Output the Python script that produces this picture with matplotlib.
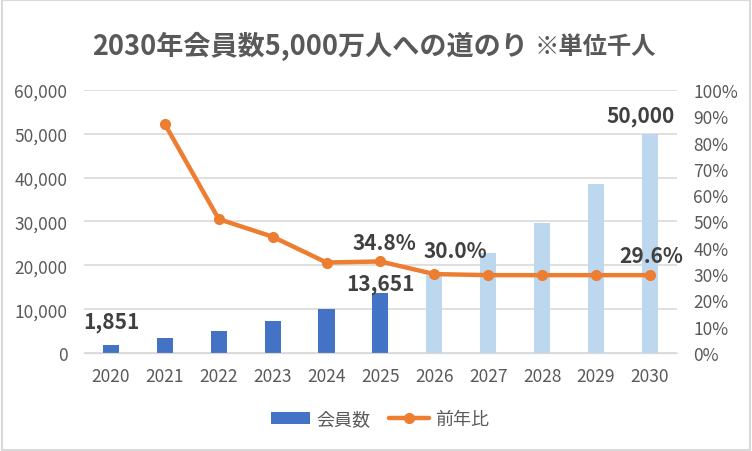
import numpy as np
import matplotlib.pyplot as plt
from matplotlib.patches import Rectangle
from matplotlib.ticker import FuncFormatter

plt.rcParams['font.family'] = ['Noto Sans CJK JP', 'DejaVu Sans']

years = ['2020', '2021', '2022', '2023', '2024', '2025', '2026', '2027', '2028', '2029', '2030']
members = [1851, 3480, 5100, 7350, 10100, 13651, 17750, 22900, 29700, 38500, 50000]
yoy = [np.nan, 87.0, 50.9, 44.2, 34.4, 34.8, 30.0, 29.6, 29.6, 29.6, 29.6]
n_actual = 6

dark_blue = '#4472C4'
light_blue = '#BDD7EE'
orange = '#ED7D31'
grey_txt = '#595959'
lbl_col = '#404040'

fig = plt.figure(figsize=(7.52, 4.52), dpi=100)
ax = fig.add_axes([0.1117, 0.2168, 0.7883, 0.582])
ax2 = ax.twinx()

x = np.arange(len(years))
colors = [dark_blue if i < n_actual else light_blue for i in range(len(years))]
bars = ax.bar(x, members, width=0.3, color=colors, zorder=2)
line, = ax2.plot(x, yoy, color=orange, lw=3.2, marker='o', ms=7, zorder=3,
                 solid_capstyle='round')

ax.set_xlim(-0.5, len(years) - 0.5)
ax.set_ylim(0, 60000)
ax.set_yticks(np.arange(0, 60001, 10000))
ax.yaxis.set_major_formatter(FuncFormatter(lambda v, p: f'{int(v):,}'))
ax2.set_ylim(0, 100)
ax2.set_yticks(np.arange(0, 101, 10))
ax2.yaxis.set_major_formatter(FuncFormatter(lambda v, p: f'{int(v)}%'))
ax.set_xticks(x)
ax.set_xticklabels(years)

ax.grid(axis='y', color='#D9D9D9', lw=1.2, zorder=0)
ax.set_axisbelow(True)
for a in (ax, ax2):
    for s in ('top', 'left', 'right'):
        a.spines[s].set_visible(False)
    a.spines['bottom'].set_color('#D9D9D9')
    a.tick_params(length=0, colors=grey_txt, labelsize=12.5)
ax.tick_params(axis='x', pad=10, labelsize=12.5)
ax.tick_params(axis='y', pad=12)
ax2.tick_params(axis='y', pad=12)

# data labels
lab = dict(fontsize=15, fontweight='bold', color=lbl_col, ha='center', va='center',
           textcoords='offset points')
ax.annotate(f'{members[0]:,}', (x[0], members[0]), xytext=(0, 17), **lab)
ax.annotate(f'{members[5]:,}', (x[5], members[5]), xytext=(0, 7), **lab)
ax.annotate(f'{members[10]:,}', (x[10], members[10]), xytext=(-7, 13), **lab)
ax2.annotate(f'{yoy[5]:.1f}%', (x[5], yoy[5]), xytext=(3, 14), **lab)
ax2.annotate(f'{yoy[6]:.1f}%', (x[6], yoy[6]), xytext=(15, 17), **lab)
ax2.annotate(f'{yoy[10]:.1f}%', (x[10], yoy[10]), xytext=(1, 14), **lab)

fig.text(0.122, 0.898, '2030年会員数5,000万人への道のり', fontsize=19.5, fontweight='bold',
         color=grey_txt, ha='left', va='center')
fig.text(0.711, 0.896, '※単位千人', fontsize=17.5, fontweight='bold',
         color=grey_txt, ha='left', va='center')

leg = fig.legend([bars.patches[0], line], ['会員数', '前年比'], loc='center',
                 bbox_to_anchor=(0.505, 0.07), ncol=2, frameon=False, fontsize=13,
                 labelcolor=grey_txt, handlelength=2.2, columnspacing=1.0,
                 handletextpad=0.35)

fig.patches.append(Rectangle((0.002, 0.003), 0.996, 0.994, transform=fig.transFigure,
                             fill=False, edgecolor='#D9D9D9', lw=1.5))

fig.savefig('out.png', dpi=100)
